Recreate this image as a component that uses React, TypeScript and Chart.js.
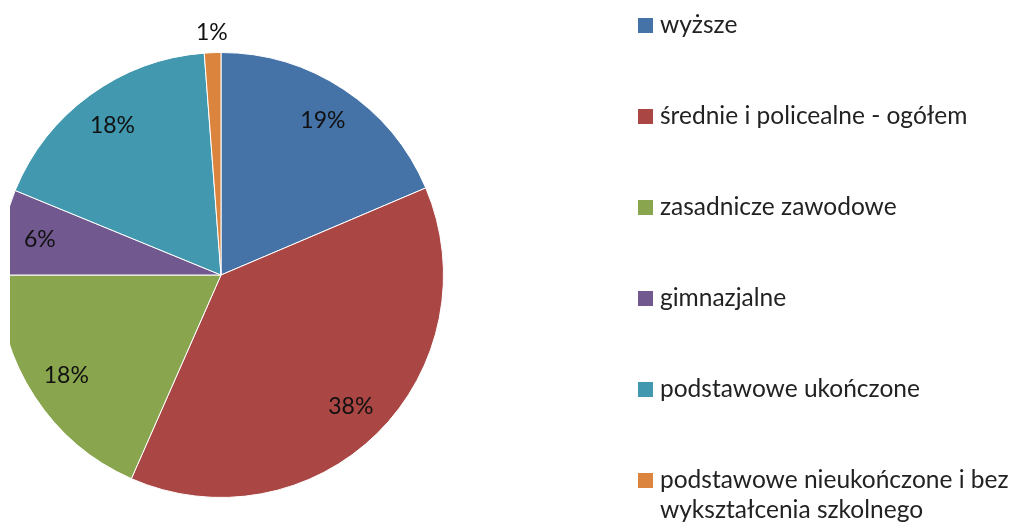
import React, { useEffect, useRef } from "react";
import { Chart, registerables } from "chart.js";

Chart.register(...registerables);

const categories: string[] = [
  "wyższe",
  "średnie i policealne - ogółem",
  "zasadnicze zawodowe",
  "gimnazjalne",
  "podstawowe ukończone",
  "podstawowe nieukończone i bez wykształcenia szkolnego",
];

// legend text broken into lines as in the reference
const legendLines: string[][] = [
  ["wyższe"],
  ["średnie i policealne - ogółem"],
  ["zasadnicze zawodowe"],
  ["gimnazjalne"],
  ["podstawowe ukończone"],
  ["podstawowe nieukończone i bez", "wykształcenia szkolnego"],
];

const shares: number[] = [18.6, 38.0, 18.4, 6.2, 17.6, 1.2];

const colors: string[] = ["#4572A7", "#AA4643", "#89A54E", "#71588F", "#4198AF", "#DB843D"];

const FONT = "Lato, 'Open Sans', sans-serif";

const piePlugin = {
  id: "pieExtras",
  beforeDatasetsDraw(chart: any) {
    const ctx = chart.ctx;
    ctx.save();
    ctx.beginPath();
    ctx.rect(10, 0, chart.width - 10, chart.height);
    ctx.clip();
  },
  afterDatasetsDraw(chart: any) {
    const ctx = chart.ctx;
    ctx.restore();
    const meta = chart.getDatasetMeta(0);
    const data = chart.data.datasets[0].data as number[];
    const total = data.reduce((a, b) => a + b, 0);
    ctx.save();
    ctx.font = `23px ${FONT}`;
    ctx.fillStyle = "#111";
    ctx.textAlign = "center";
    ctx.textBaseline = "middle";
    meta.data.forEach((arc: any, i: number) => {
      const { x, y, startAngle, endAngle, outerRadius } = arc.getProps(
        ["x", "y", "startAngle", "endAngle", "outerRadius"],
        true
      );
      const mid = (startAngle + endAngle) / 2;
      const pct = (data[i] / total) * 100;
      const r = pct < 3 ? outerRadius + 20 : outerRadius * 0.83;
      const lx = x + Math.cos(mid) * r;
      const ly = y + Math.sin(mid) * r;
      ctx.fillText(`${Math.round(pct + 1e-6)}%`, lx, ly);
    });
    ctx.restore();
  },
  afterDraw(chart: any) {
    const ctx = chart.ctx;
    ctx.save();
    ctx.font = `24.5px ${FONT}`;
    ctx.textAlign = "left";
    ctx.textBaseline = "middle";
    const x0 = 638;
    const y0 = 25.5;
    const step = 91;
    legendLines.forEach((lines, i) => {
      const cy = y0 + i * step;
      ctx.fillStyle = colors[i];
      ctx.fillRect(x0, cy - 7.5, 15, 15);
      ctx.fillStyle = "#222";
      lines.forEach((t, j) => {
        ctx.fillText(t, x0 + 22, cy + j * 30);
      });
    });
    ctx.restore();
  },
};

export default function App() {
  const ref = useRef<HTMLCanvasElement | null>(null);
  useEffect(() => {
    document.body.style.margin = "0";
    if (!ref.current) return;
    const chart = new Chart(ref.current, {
      type: "pie",
      data: {
        labels: categories,
        datasets: [
          {
            data: shares,
            backgroundColor: colors,
            borderColor: "#ffffff",
            borderWidth: 1,
          },
        ],
      },
      options: {
        animation: false,
        responsive: false,
        devicePixelRatio: 1,
        radius: 222.5,
        layout: { padding: { left: 10, right: 583, top: 26, bottom: 0 } },
        plugins: {
          legend: { display: false },
          tooltip: { enabled: false },
        },
      } as any,
      plugins: [piePlugin],
    });
    return () => chart.destroy();
  }, []);
  return (
    <div style={{ position: "absolute", left: 0, top: 0, width: 1015, height: 524, background: "#fff" }}>
      <canvas ref={ref} width={1015} height={524} style={{ display: "block" }} />
    </div>
  );
}
